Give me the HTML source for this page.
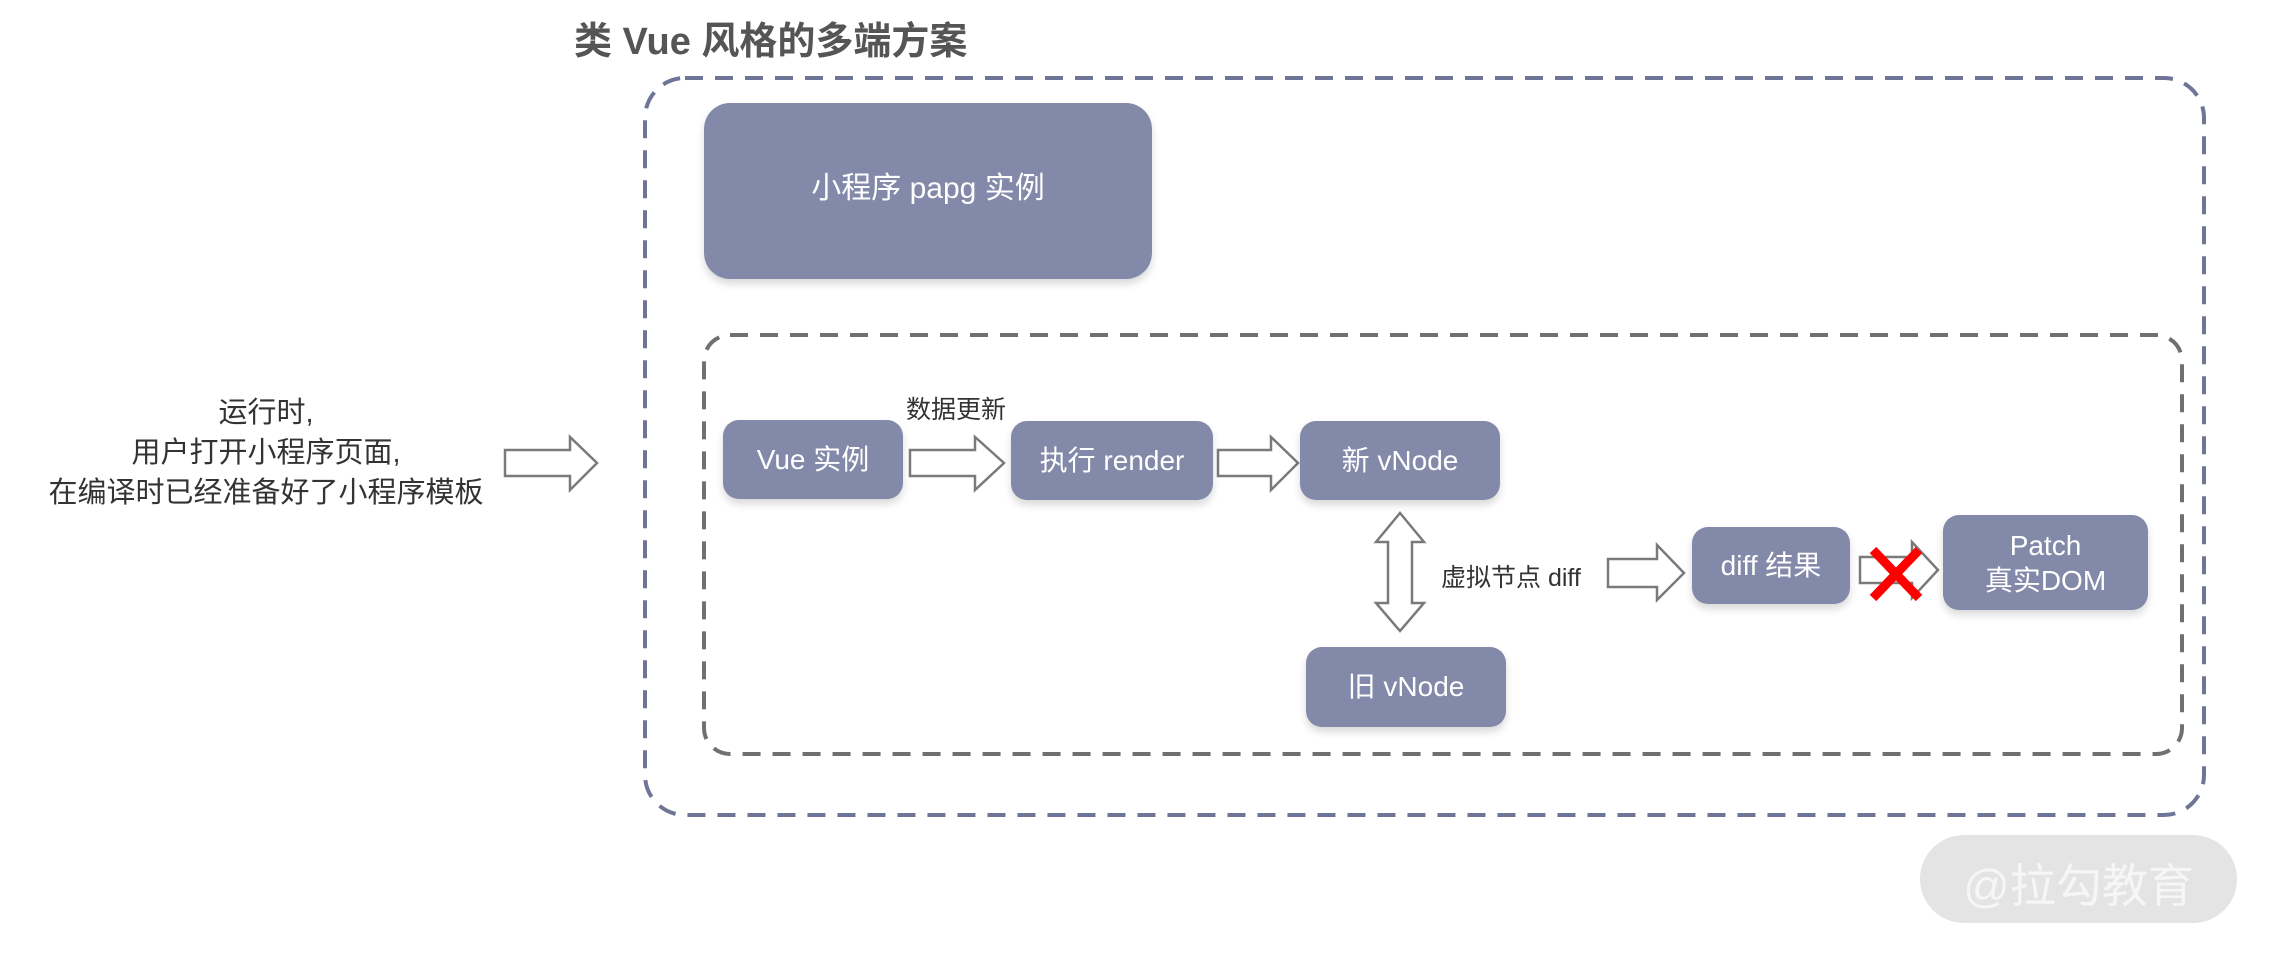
<!DOCTYPE html>
<html><head><meta charset="utf-8"><style>
html,body{margin:0;padding:0;background:#fff;}
body{width:2270px;height:954px;position:relative;overflow:hidden;font-family:"Liberation Sans","Noto Sans CJK SC",sans-serif;}
.t{position:absolute;white-space:nowrap;}
.box{position:absolute;background:#8389a8;color:#fff;border-radius:16px;display:flex;align-items:center;justify-content:center;text-align:center;font-size:28px;line-height:1.2;box-shadow:0 5px 8px rgba(0,0,0,0.15);}
</style></head><body>
<svg width="2270" height="954" style="position:absolute;left:0;top:0">
<rect x="645" y="78" width="1559" height="737" rx="40" fill="none" stroke="#6f7597" stroke-width="4" stroke-dasharray="18 12"/>
<rect x="704" y="335" width="1478" height="419" rx="26" fill="none" stroke="#707070" stroke-width="4" stroke-dasharray="18 12"/>
<g fill="#fff" stroke="#7a7a7a" stroke-width="2.5">
<polygon points="505,450 570,450 570,437 597,463 570,490 570,476 505,476"/>
<polygon points="910,450 975,450 975,437 1004,463 975,490 975,476 910,476"/>
<polygon points="1218,450 1271,450 1271,437 1298,463 1271,490 1271,476 1218,476"/>
<polygon points="1608,559 1657,559 1657,545 1684,573 1657,600 1657,587 1608,587"/>
<polygon points="1860,557 1912,557 1912,542 1938,570 1912,598 1912,583 1860,583"/>
<polygon points="1400,513 1424,542 1412,542 1412,603 1424,603 1400,631 1376,603 1388,603 1388,542 1376,542"/>
</g>
<g stroke="#ff0000" stroke-width="9">
<line x1="1873" y1="550" x2="1919" y2="598"/>
<line x1="1919" y1="550" x2="1873" y2="598"/>
</g>
<rect x="1920" y="835" width="317" height="88" rx="44" fill="#e4e4e4"/>
</svg>
<div class="t" style="left:574px;top:10px;font-size:38px;font-weight:bold;color:#555;">类 Vue 风格的多端方案</div>
<div class="box" style="left:704px;top:103px;width:448px;height:176px;border-radius:26px;font-size:30px;"><span style="position:relative;top:-2px">小程序 papg 实例</span></div>
<div class="t" style="left:16px;top:393px;width:500px;text-align:center;font-size:29px;line-height:40px;color:#333;">运行时,<br>用户打开小程序页面,<br>在编译时已经准备好了小程序模板</div>
<div class="box" style="left:723px;top:420px;width:180px;height:79px;">Vue 实例</div>
<div class="t" style="left:896px;top:390px;width:120px;text-align:center;font-size:25px;color:#333;">数据更新</div>
<div class="box" style="left:1011px;top:421px;width:202px;height:79px;">执行 render</div>
<div class="box" style="left:1300px;top:421px;width:200px;height:79px;">新 vNode</div>
<div class="t" style="left:1441px;top:558px;font-size:25px;color:#333;">虚拟节点 diff</div>
<div class="box" style="left:1692px;top:527px;width:158px;height:77px;">diff 结果</div>
<div class="box" style="left:1943px;top:515px;width:205px;height:95px;line-height:1.25;">Patch<br>真实DOM</div>
<div class="box" style="left:1306px;top:647px;width:200px;height:80px;">旧 vNode</div>
<div class="t" style="left:1920px;top:850px;width:317px;text-align:center;font-size:46px;color:#f6f6f6;">@拉勾教育</div>
</body></html>
